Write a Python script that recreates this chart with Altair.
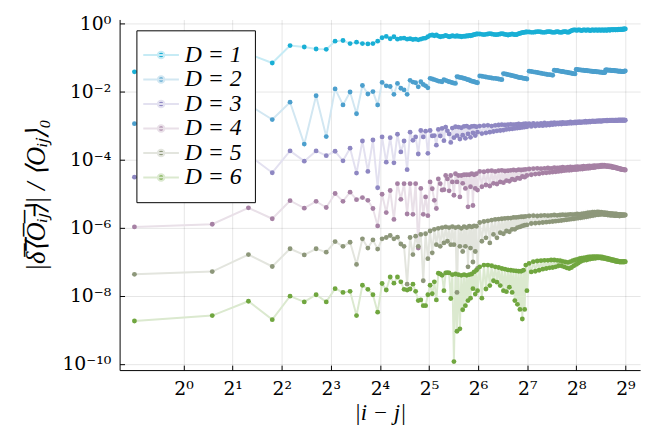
import altair as alt
import pandas as pd

# ---------------- data (log10 of the plotted ratio) ----------------
LABELS = ["D = 1", "D = 2", "D = 3", "D = 4", "D = 5", "D = 6"]
COLORS = ["#19afd5", "#4c9fcd", "#8e87c2", "#a681a4", "#8d977a", "#70a63f"]
LINE_COLORS = ["#c6ebf5", "#d2e7f2", "#e3e1f0", "#e9e0e8", "#e3e5de", "#dbe9cf"]

# separation index n; plotted at |i-j| = n - 0.5
N_A = list(range(1, 65))
N_B = list(range(66, 129, 2))
N_C = list(range(132, 513, 4))

D1_A = [-1.43, -1.20, -0.90, -1.17, -0.66, -0.70, -0.76, -0.77,
        -0.53, -0.51, -0.60, -0.56, -0.60, -0.61, -0.60, -0.53,
        -0.43, -0.39, -0.46, -0.40, -0.47, -0.45, -0.44, -0.47,
        -0.46, -0.48, -0.47, -0.49, -0.47, -0.45, -0.44, -0.40,
        -0.36, -0.35, -0.37, -0.35, -0.38, -0.40, -0.39, -0.38,
        -0.36, -0.38, -0.40, -0.39, -0.37, -0.38, -0.39, -0.37,
        -0.39, -0.38, -0.40, -0.39, -0.38, -0.39, -0.37, -0.38,
        -0.36, -0.37, -0.36, -0.35, -0.34, -0.33, -0.32, -0.32]
D1_B = [-0.32, -0.33, -0.34, -0.33, -0.32, -0.31, -0.32, -0.33,
        -0.34, -0.34, -0.33, -0.32, -0.31, -0.32, -0.33, -0.34,
        -0.35, -0.34, -0.33, -0.32, -0.33, -0.34, -0.34, -0.33,
        -0.31, -0.30, -0.29, -0.28, -0.27, -0.27, -0.26, -0.26]
D1_C = [-0.26, -0.27, -0.27, -0.26, -0.25, -0.25, -0.26, -0.27,
        -0.27, -0.26, -0.25, -0.25, -0.26, -0.27, -0.27, -0.26,
        -0.25, -0.26, -0.27, -0.27, -0.26, -0.25, -0.25, -0.26,
        -0.27, -0.26, -0.24, -0.22, -0.21, -0.20, -0.20, -0.21,
        -0.21, -0.20, -0.20, -0.21, -0.22, -0.21, -0.20, -0.20,
        -0.21, -0.21, -0.20, -0.20, -0.21, -0.22, -0.21, -0.20,
        -0.20, -0.21, -0.21, -0.20, -0.20, -0.21, -0.21, -0.20,
        -0.20, -0.21, -0.21, -0.20, -0.20, -0.21, -0.21, -0.20,
        -0.20, -0.21, -0.21, -0.20, -0.19, -0.20, -0.21, -0.20,
        -0.19, -0.19, -0.20, -0.20, -0.19, -0.19, -0.20, -0.20,
        -0.19, -0.19, -0.20, -0.19, -0.18, -0.19, -0.19, -0.18,
        -0.18, -0.19, -0.18, -0.18, -0.17, -0.18, -0.17, -0.17]

D2_A = [-2.95, -2.60, -2.39, -2.83, -2.32, -3.55, -2.13, -3.33,
        -1.93, -2.40, -2.02, -2.66, -1.83, -2.08, -2.01, -2.40,
        -1.74, -1.84, -1.86, -2.09, -1.77, -1.91, -1.96, -2.09,
        -1.68, -1.73, -1.75, -1.87, -1.72, -1.80, -1.84, -1.90,
        -1.62, -1.64, -1.66, -1.68, -1.70, -1.71, -1.72, -1.66,
        -1.68, -1.70, -1.72, -1.73, -1.75, -1.76, -1.77, -1.57,
        -1.58, -1.59, -1.60, -1.61, -1.62, -1.63, -1.65, -1.66,
        -1.67, -1.69, -1.70, -1.71, -1.72, -1.73, -1.74, -1.75]
D2_B = [-1.55, -1.56, -1.57, -1.58, -1.59, -1.60, -1.61, -1.62,
        -1.62, -1.63, -1.64, -1.65, -1.66, -1.48, -1.49, -1.50,
        -1.51, -1.52, -1.53, -1.54, -1.55, -1.56, -1.57, -1.58,
        -1.59, -1.60, -1.60, -1.61, -1.62, -1.62, -1.63, -1.64]
D2_C = [-1.41, -1.42, -1.43, -1.44, -1.45, -1.46, -1.47, -1.48,
        -1.49, -1.50, -1.51, -1.51, -1.52, -1.53, -1.38, -1.39,
        -1.39, -1.40, -1.41, -1.42, -1.42, -1.43, -1.44, -1.44,
        -1.45, -1.46, -1.46, -1.47, -1.48, -1.48, -1.49, -1.36,
        -1.36, -1.37, -1.37, -1.37, -1.38, -1.38, -1.38, -1.39,
        -1.39, -1.39, -1.40, -1.40, -1.40, -1.41, -1.41, -1.41,
        -1.42, -1.42, -1.42, -1.42, -1.43, -1.43, -1.43, -1.43,
        -1.44, -1.44, -1.44, -1.44, -1.45, -1.45, -1.45, -1.45,
        -1.37, -1.37, -1.37, -1.38, -1.38, -1.38, -1.38, -1.38,
        -1.39, -1.39, -1.39, -1.39, -1.39, -1.40, -1.40, -1.40,
        -1.40, -1.40, -1.41, -1.41, -1.41, -1.41, -1.41, -1.41,
        -1.42, -1.42, -1.42, -1.42, -1.42, -1.41, -1.41, -1.40]

D3_A = [-4.52, -4.20, -3.86, -4.39, -3.75, -4.05, -3.75, -3.89,
        -3.76, -4.04, -3.67, -4.40, -3.46, -4.35, -3.43, -4.83,
        -3.34, -4.08, -3.36, -4.10, -3.26, -3.78, -3.46, -4.30,
        -3.20, -3.44, -3.34, -3.84, -3.15, -3.34, -3.17, -3.82,
        -3.15, -3.31, -3.30, -3.58, -3.12, -3.31, -3.09, -3.45,
        -3.05, -3.16, -3.25, -3.50, -3.08, -3.36, -3.04, -3.30,
        -3.05, -3.40, -3.07, -3.29, -3.03, -3.38, -3.02, -3.25,
        -3.06, -3.35, -3.03, -3.22, -3.02, -3.30, -3.04, -3.20]
D3_B = [-3.02, -3.24, -3.01, -3.22, -3.00, -3.20, -3.02, -3.18,
        -3.00, -3.16, -2.99, -3.15, -2.98, -3.14, -2.99, -3.12,
        -2.98, -3.11, -2.97, -3.10, -2.98, -3.09, -2.97, -3.08,
        -2.96, -3.07, -2.97, -3.06, -2.96, -3.05, -2.95, -3.04]
D3_C = [-2.95, -3.03, -2.94, -3.02, -2.95, -3.01, -2.94, -3.01,
        -2.93, -3.00, -2.94, -2.99, -2.93, -2.98, -2.92, -2.97,
        -2.93, -2.96, -2.92, -2.96, -2.91, -2.95, -2.92, -2.95,
        -2.91, -2.94, -2.90, -2.94, -2.91, -2.93, -2.90, -2.93,
        -2.90, -2.92, -2.89, -2.92, -2.90, -2.91, -2.89, -2.91,
        -2.88, -2.91, -2.89, -2.90, -2.88, -2.90, -2.88, -2.89,
        -2.87, -2.89, -2.88, -2.89, -2.87, -2.88, -2.87, -2.88,
        -2.86, -2.88, -2.87, -2.88, -2.86, -2.87, -2.86, -2.87,
        -2.86, -2.87, -2.85, -2.87, -2.86, -2.86, -2.85, -2.86,
        -2.85, -2.86, -2.85, -2.86, -2.85, -2.86, -2.85, -2.85,
        -2.85, -2.86, -2.85, -2.85, -2.84, -2.85, -2.85, -2.85,
        -2.84, -2.85, -2.85, -2.85, -2.84, -2.85, -2.85, -2.85]

D4_A = [-5.98, -5.90, -5.42, -5.74, -5.21, -5.43, -5.23, -5.41,
        -5.00, -5.23, -4.96, -5.18, -5.12, -5.20, -5.44, -5.95,
        -5.02, -5.56, -4.91, -5.76, -4.71, -5.17, -4.71, -5.60,
        -4.71, -5.61, -4.71, -6.60, -4.85, -5.61, -5.10, -5.65,
        -4.66, -4.86, -5.20, -5.44, -4.57, -4.71, -4.90, -4.89,
        -4.47, -4.57, -4.92, -4.47, -4.66, -5.05, -4.42, -4.66,
        -4.47, -5.10, -4.47, -4.70, -4.45, -4.85, -4.45, -5.39,
        -4.45, -4.80, -4.42, -5.35, -4.45, -4.85, -4.42, -4.90]
D4_B = [-4.35, -4.80, -4.36, -4.75, -4.34, -4.78, -4.33, -4.70,
        -4.35, -4.72, -4.33, -4.66, -4.32, -4.68, -4.34, -4.62,
        -4.33, -4.64, -4.32, -4.58, -4.31, -4.60, -4.32, -4.55,
        -4.30, -4.56, -4.31, -4.50, -4.30, -4.52, -4.29, -4.47]
D4_C = [-4.28, -4.45, -4.27, -4.43, -4.26, -4.42, -4.27, -4.40,
        -4.26, -4.39, -4.25, -4.38, -4.26, -4.37, -4.24, -4.36,
        -4.25, -4.35, -4.24, -4.34, -4.23, -4.33, -4.24, -4.32,
        -4.23, -4.32, -4.22, -4.31, -4.23, -4.30, -4.22, -4.30,
        -4.21, -4.29, -4.22, -4.28, -4.21, -4.28, -4.20, -4.27,
        -4.21, -4.26, -4.20, -4.26, -4.19, -4.25, -4.20, -4.24,
        -4.19, -4.24, -4.18, -4.23, -4.19, -4.22, -4.18, -4.22,
        -4.18, -4.21, -4.17, -4.21, -4.17, -4.20, -4.17, -4.20,
        -4.18, -4.21, -4.18, -4.21, -4.19, -4.22, -4.19, -4.22,
        -4.20, -4.23, -4.21, -4.24, -4.22, -4.24, -4.23, -4.25,
        -4.24, -4.26, -4.25, -4.27, -4.26, -4.28, -4.27, -4.29,
        -4.28, -4.30, -4.29, -4.30, -4.30, -4.31, -4.30, -4.31]

D5_A = [-7.37, -7.29, -6.79, -7.14, -6.62, -6.80, -6.62, -6.72,
        -6.41, -6.55, -6.43, -7.08, -6.33, -6.60, -6.36, -6.63,
        -6.33, -6.29, -6.23, -6.33, -6.28, -6.48, -6.55, -7.66,
        -6.29, -6.79, -6.25, -6.55, -6.20, -7.56, -6.18, -6.91,
        -6.10, -6.74, -6.05, -6.50, -6.02, -6.55, -6.00, -6.45,
        -5.98, -6.40, -6.00, -6.50, -5.97, -6.50, -6.00, -7.90,
        -5.98, -6.55, -6.02, -6.70, -5.97, -6.55, -6.00, -7.15,
        -5.96, -6.60, -5.98, -7.01, -5.95, -6.70, -5.96, -7.20]
D5_B = [-5.85, -6.40, -5.82, -6.30, -5.80, -6.45, -5.78, -6.20,
        -5.76, -6.30, -5.75, -6.15, -5.74, -6.18, -5.73, -6.10,
        -5.72, -6.12, -5.72, -6.05, -5.70, -6.05, -5.70, -6.00,
        -5.69, -5.98, -5.68, -5.95, -5.68, -5.93, -5.67, -5.92]
D5_C = [-5.66, -5.88, -5.65, -5.87, -5.66, -5.86, -5.65, -5.85,
        -5.64, -5.84, -5.65, -5.83, -5.64, -5.82, -5.63, -5.81,
        -5.64, -5.80, -5.63, -5.79, -5.62, -5.78, -5.63, -5.77,
        -5.62, -5.76, -5.61, -5.75, -5.62, -5.74, -5.61, -5.73,
        -5.60, -5.72, -5.61, -5.71, -5.60, -5.70, -5.59, -5.69,
        -5.58, -5.68, -5.57, -5.67, -5.56, -5.66, -5.56, -5.65,
        -5.55, -5.64, -5.55, -5.63, -5.55, -5.62, -5.54, -5.62,
        -5.55, -5.61, -5.55, -5.61, -5.56, -5.61, -5.56, -5.62,
        -5.57, -5.62, -5.57, -5.63, -5.58, -5.63, -5.58, -5.64,
        -5.59, -5.64, -5.59, -5.64, -5.60, -5.65, -5.60, -5.65,
        -5.60, -5.65, -5.61, -5.65, -5.61, -5.66, -5.61, -5.65,
        -5.62, -5.65, -5.62, -5.64, -5.62, -5.64, -5.63, -5.63]

D6_A = [-8.74, -8.58, -8.16, -8.70, -8.01, -8.18, -7.97, -8.18,
        -7.79, -7.90, -7.87, -8.58, -7.69, -7.81, -7.97, -8.48,
        -7.64, -7.83, -7.45, -7.63, -7.45, -7.59, -7.81, -7.83,
        -7.80, -7.66, -7.87, -8.14, -8.12, -8.29, -8.29, -7.97,
        -7.69, -7.94, -7.59, -8.12, -7.34, -7.36, -7.40, -7.85,
        -7.33, -7.32, -7.33, -8.08, -7.38, -9.93, -7.36, -9.04,
        -7.38, -8.97, -7.40, -8.41, -7.38, -8.29, -7.40, -8.14,
        -7.38, -8.07, -7.36, -7.79, -7.30, -7.95, -7.25, -7.85]
D6_B = [-7.15, -8.07, -7.10, -7.80, -7.10, -7.70, -7.12, -7.56,
        -7.15, -7.60, -7.17, -7.70, -7.20, -7.85, -7.22, -7.88,
        -7.24, -7.75, -7.25, -7.90, -7.26, -8.14, -7.27, -8.25,
        -7.28, -8.40, -7.28, -8.68, -7.25, -8.40, -7.10, -7.85]
D6_C = [-7.05, -7.30, -7.00, -7.28, -6.98, -7.25, -6.97, -7.22,
        -6.96, -7.20, -6.96, -7.18, -6.95, -7.17, -6.95, -7.15,
        -6.96, -7.12, -6.97, -7.12, -6.99, -7.15, -7.01, -7.18,
        -7.02, -7.20, -7.00, -7.17, -6.97, -7.12, -6.95, -7.08,
        -6.93, -7.04, -6.91, -7.00, -6.90, -6.97, -6.89, -6.95,
        -6.88, -6.95, -6.87, -6.93, -6.86, -6.92, -6.86, -6.91,
        -6.85, -6.90, -6.85, -6.90, -6.85, -6.89, -6.85, -6.89,
        -6.86, -6.89, -6.86, -6.90, -6.87, -6.90, -6.88, -6.91,
        -6.89, -6.92, -6.90, -6.93, -6.91, -6.94, -6.92, -6.95,
        -6.93, -6.96, -6.94, -6.97, -6.95, -6.98, -6.96, -6.99,
        -6.97, -7.00, -6.98, -7.00, -6.99, -7.01, -7.00, -7.01,
        -7.00, -7.01, -7.00, -7.01, -7.00, -7.01, -7.00, -7.00]

SERIES = [(D1_A, D1_B, D1_C), (D2_A, D2_B, D2_C), (D3_A, D3_B, D3_C),
          (D4_A, D4_B, D4_C), (D5_A, D5_B, D5_C), (D6_A, D6_B, D6_C)]

X_TICKS_EXP = [0, 1, 2, 3, 4, 5, 6, 7, 8, 9]
X_TICK_LABELS = ["2⁰", "2¹", "2²", "2³", "2⁴", "2⁵", "2⁶", "2⁷", "2⁸", "2⁹"]
Y_TICKS_EXP = [0, -2, -4, -6, -8, -10]
Y_TICK_LABELS = ["10⁰", "10⁻²", "10⁻⁴", "10⁻⁶", "10⁻⁸", "10⁻¹⁰"]

rows = []
for label, parts in zip(LABELS, SERIES):
    for ns, vs in zip((N_A, N_B, N_C), parts):
        for n, v in zip(ns, vs):
            rows.append({"D": label, "n": n, "x": n - 0.5, "y": 10.0 ** v})
df = pd.DataFrame(rows)

x_ticks = [2.0 ** e for e in X_TICKS_EXP]
y_ticks = [10.0 ** e for e in Y_TICKS_EXP]


def label_expr(exps, labels, base_const):
    e = f"round(log(datum.value)/{base_const})"
    expr = "''"
    for ex, lb in reversed(list(zip(exps, labels))):
        expr = f"({e} == {ex} ? '{lb}' : {expr})"
    return expr


X_EXPR = label_expr(X_TICKS_EXP, X_TICK_LABELS, "LN2")
Y_EXPR = label_expr(Y_TICKS_EXP, Y_TICK_LABELS, "LN10")

FONT = "Liberation Serif"
TICKFONT = "DejaVu Serif"
x_scale = alt.Scale(type="log", base=2, domain=[2 ** -1.302, 2 ** 9.30], nice=False)
y_scale = alt.Scale(type="log", base=10, domain=[10 ** -10.18, 10 ** 0.107], nice=False)

x_axis_main = alt.Axis(orient="bottom", values=x_ticks, labelExpr=X_EXPR, ticks=False,
                       domain=True, domainColor="black", domainWidth=1,
                       grid=True, gridColor="black", gridOpacity=0.1, gridWidth=1,
                       labelFont=TICKFONT, labelFontSize=19, labelColor="black", labelPadding=10,
                       labelFlush=False, labelOverlap=False,
                       title="|i − j|", titleFont=FONT, titleFontSize=23,
                       titleFontStyle="italic", titleFontWeight="normal", titleColor="black",
                       titlePadding=3)
y_axis_main = alt.Axis(orient="left", values=y_ticks, labelExpr=Y_EXPR, ticks=False,
                       domain=True, domainColor="black", domainWidth=1,
                       grid=True, gridColor="black", gridOpacity=0.1, gridWidth=1,
                       labelFont=TICKFONT, labelFontSize=19, labelColor="black", labelPadding=9,
                       labelFlush=False, labelOverlap=False,
                       title="|δ̅⟨̅O̅ᵢ̅ⱼ̅⟩| / ⟨Oᵢⱼ⟩₀", titleFont=FONT, titleFontSize=27,
                       titleFontStyle="italic", titleFontWeight="normal", titleColor="black",
                       titlePadding=12)
x_axis_ticks = alt.Axis(orient="bottom", values=x_ticks, labels=False, domain=False, grid=False,
                        ticks=True, tickSize=5, tickColor="black", tickWidth=1, offset=-5, title=None)
y_axis_ticks = alt.Axis(orient="left", values=y_ticks, labels=False, domain=False, grid=False,
                        ticks=True, tickSize=5, tickColor="black", tickWidth=1, offset=-5, title=None)

# legend symbol: a faint line segment with a solid dot in its middle
SYMBOL_PATH = ("M-1.64,0H1.64M-0.3,0A0.3,0.3,0,1,0,0.3,0"
               "A0.3,0.3,0,1,0,-0.3,0Z")


def make_legend():
    return alt.Legend(
        orient="none", legendX=17, legendY=11, title=None,
        symbolType=SYMBOL_PATH, symbolSize=484, symbolStrokeWidth=2, symbolOpacity=1,
        labelFont=FONT, labelFontSize=24, labelFontStyle="italic",
        labelColor="black", labelOffset=12, padding=13, rowPadding=0.8,
        fillColor="white", strokeColor="black", cornerRadius=0,
    )


base = alt.Chart(df)
lines = base.mark_line(strokeWidth=2, opacity=1, clip=True).encode(
    x=alt.X("x:Q", scale=x_scale, axis=x_axis_main),
    y=alt.Y("y:Q", scale=y_scale, axis=y_axis_main),
    stroke=alt.Stroke("D:N", scale=alt.Scale(domain=LABELS, range=LINE_COLORS),
                      legend=make_legend()),
    order=alt.Order("n:Q"),
)
points = base.mark_circle(size=24, opacity=1, strokeWidth=0, clip=True).encode(
    x=alt.X("x:Q", scale=x_scale, axis=x_axis_ticks),
    y=alt.Y("y:Q", scale=y_scale, axis=y_axis_ticks),
    fill=alt.Fill("D:N", scale=alt.Scale(domain=LABELS, range=COLORS), legend=make_legend()),
)

chart = alt.layer(lines, points).resolve_axis(x="independent", y="independent").properties(
    width=527, height=355,
    autosize=alt.AutoSizeParams(type="none"),
    padding={"left": 113, "top": 9, "right": 9, "bottom": 54},
    background="white",
).configure_view(stroke="transparent")

chart.save("out.html", embed_options={"renderer": "svg", "actions": False})
